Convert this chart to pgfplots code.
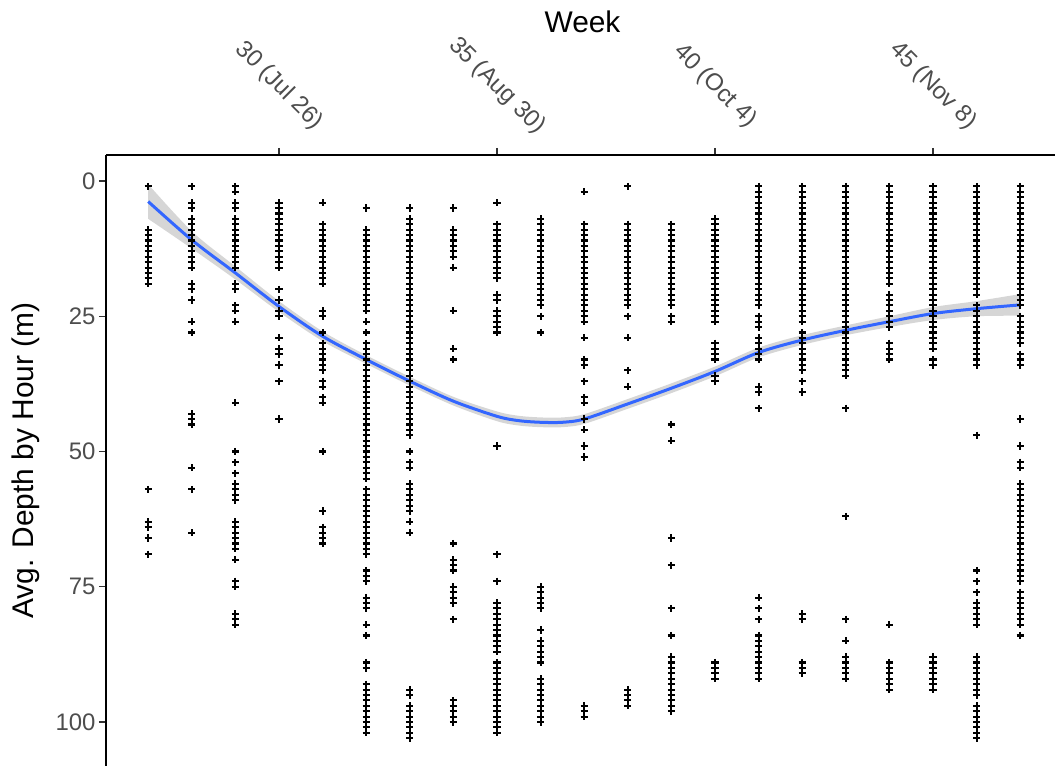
\documentclass[border=0pt]{standalone}
\usepackage{fontspec}
\setmainfont{Liberation Sans}
\usepackage{pgfplots}
\usepackage{pgfplotstable}
\pgfplotsset{compat=1.18}
\usepgfplotslibrary{fillbetween}

\definecolor{fitblue}{HTML}{3366FF}
\definecolor{ticktext}{HTML}{4D4D4D}
\definecolor{bandgrey}{HTML}{999999}

\pgfplotsset{pts/.style={only marks, mark=+, mark size=3.6bp,
  mark options={line width=2.1bp, black}}}

% smoothed depth by week with its confidence band (depth in m)
\pgfplotstableread{
week fit lo hi
27   3.8  0.6  7.0
28  10.9  9.3 12.5
29  17.0 15.8 18.2
30  23.2 22.2 24.2
31  28.7 27.8 29.6
32  33.0 32.2 33.8
33  37.0 36.2 37.8
34  40.7 39.9 41.5
35  43.5 42.6 44.4
35.5 44.3 43.4 45.2
36  44.6 43.7 45.5
36.5 44.6 43.7 45.5
37  44.0 43.1 44.9
38  41.2 40.3 42.1
39  38.3 37.4 39.2
40  35.2 34.3 36.1
41  31.7 30.8 32.6
42  29.4 28.5 30.3
43  27.6 26.7 28.5
44  26.0 25.0 27.0
45  24.5 23.3 25.7
46  23.6 22.2 25.0
47  22.9 20.9 24.9
}\fittab

\begin{document}
\begin{tikzpicture}
\begin{axis}[
  scale only axis, width=949bp, height=611bp,
  xmin=26.032, xmax=47.798, ymin=-108.13, ymax=4.806,
  axis x line*=top, axis y line*=left,
  axis line style={-, line width=1.5bp, black},
  tick align=outside, major tick length=7bp,
  tick style={line width=1.4bp, color=black!80},
  xtick={30,35,40,45},
  xticklabels={30 (Jul 26), 35 (Aug 30), 40 (Oct 4), 45 (Nov 8)},
  ytick={0,-25,-50,-75,-100}, yticklabels={0,25,50,75,100},
  /pgf/number format/assume math mode=true,
  tick label style={font=\fontsize{24}{29}\selectfont, text=ticktext},
  xticklabel style={yshift=62bp, rotate=-45, anchor=center},
  xlabel={Week}, ylabel={Avg. Depth by Hour (m)},
  every axis x label/.style={at={(axis description cs:0.5,1)}, anchor=center,
    xshift=2bp, yshift=133bp, font=\fontsize{30}{36}\selectfont},
  every axis y label/.style={at={(axis description cs:0,0.5)}, anchor=center,
    xshift=-80bp, rotate=90, font=\fontsize{30}{36}\selectfont},
]
% hourly average depths, one column of points per week
\addplot[pts] table[x expr=27, y expr=-\thisrow{d}, row sep=\\] {d\\1\\9\\10\\11\\12\\13\\14\\15\\16\\17\\18\\19\\57\\63\\64\\66\\69\\};
\addplot[pts] table[x expr=28, y expr=-\thisrow{d}, row sep=\\] {d\\1\\4\\5\\7\\8\\9\\10\\11\\12\\13\\14\\15\\16\\19\\20\\22\\26\\28\\43\\44\\45\\53\\57\\65\\};
\addplot[pts] table[x expr=29, y expr=-\thisrow{d}, row sep=\\] {d\\1\\2\\4\\5\\7\\8\\9\\10\\11\\12\\13\\14\\15\\16\\19\\20\\23\\24\\26\\41\\50\\52\\54\\56\\57\\58\\59\\63\\64\\65\\66\\67\\68\\70\\74\\75\\80\\81\\82\\};
\addplot[pts] table[x expr=30, y expr=-\thisrow{d}, row sep=\\] {d\\4\\5\\6\\7\\8\\9\\10\\11\\12\\13\\14\\15\\16\\20\\22\\24\\25\\29\\31\\32\\34\\37\\44\\};
\addplot[pts] table[x expr=31, y expr=-\thisrow{d}, row sep=\\] {d\\4\\8\\9\\10\\11\\12\\13\\14\\15\\16\\17\\18\\19\\24\\25\\28\\30\\31\\32\\33\\34\\35\\37\\38\\40\\41\\50\\61\\64\\65\\66\\67\\};
\addplot[pts] table[x expr=32, y expr=-\thisrow{d}, row sep=\\] {d\\5\\9\\10\\11\\12\\13\\14\\15\\16\\17\\18\\19\\20\\21\\22\\23\\24\\26\\28\\30\\31\\32\\33\\34\\35\\36\\37\\38\\39\\40\\41\\42\\43\\44\\45\\46\\47\\48\\49\\50\\51\\52\\53\\54\\55\\57\\58\\59\\60\\61\\62\\63\\64\\65\\66\\67\\68\\69\\72\\73\\74\\77\\78\\79\\82\\84\\89\\90\\93\\94\\95\\96\\97\\98\\99\\100\\101\\102\\};
\addplot[pts] table[x expr=33, y expr=-\thisrow{d}, row sep=\\] {d\\5\\7\\8\\9\\10\\11\\12\\13\\14\\15\\16\\17\\18\\19\\20\\21\\22\\23\\24\\25\\26\\27\\28\\29\\30\\31\\32\\33\\34\\35\\36\\37\\38\\39\\40\\41\\42\\43\\44\\45\\46\\47\\50\\52\\53\\56\\57\\58\\59\\60\\61\\63\\65\\94\\95\\97\\98\\99\\100\\101\\102\\103\\};
\addplot[pts] table[x expr=34, y expr=-\thisrow{d}, row sep=\\] {d\\5\\9\\10\\11\\12\\13\\14\\16\\24\\31\\33\\67\\70\\71\\72\\75\\76\\77\\78\\81\\96\\97\\98\\99\\100\\};
\addplot[pts] table[x expr=35, y expr=-\thisrow{d}, row sep=\\] {d\\4\\8\\9\\10\\11\\12\\13\\14\\15\\16\\17\\18\\21\\22\\24\\25\\26\\27\\28\\49\\69\\74\\78\\79\\80\\81\\82\\83\\84\\85\\86\\87\\89\\90\\91\\92\\93\\94\\95\\96\\97\\98\\99\\100\\101\\102\\};
\addplot[pts] table[x expr=36, y expr=-\thisrow{d}, row sep=\\] {d\\7\\8\\9\\10\\11\\12\\13\\14\\15\\16\\17\\18\\19\\20\\21\\22\\23\\25\\28\\75\\76\\77\\78\\79\\83\\85\\86\\87\\88\\89\\92\\93\\94\\95\\96\\97\\98\\99\\100\\};
\addplot[pts] table[x expr=37, y expr=-\thisrow{d}, row sep=\\] {d\\2\\8\\9\\10\\11\\12\\13\\14\\15\\16\\17\\18\\19\\20\\21\\22\\23\\24\\25\\26\\29\\33\\34\\37\\40\\41\\44\\46\\49\\51\\97\\98\\99\\};
\addplot[pts] table[x expr=38, y expr=-\thisrow{d}, row sep=\\] {d\\1\\8\\9\\10\\11\\12\\13\\14\\15\\16\\17\\18\\19\\20\\21\\22\\23\\25\\29\\35\\38\\94\\95\\96\\97\\};
\addplot[pts] table[x expr=39, y expr=-\thisrow{d}, row sep=\\] {d\\8\\9\\10\\11\\12\\13\\14\\15\\16\\17\\18\\19\\20\\21\\22\\23\\25\\26\\45\\48\\66\\71\\79\\84\\88\\89\\90\\91\\92\\93\\94\\95\\96\\97\\98\\};
\addplot[pts] table[x expr=40, y expr=-\thisrow{d}, row sep=\\] {d\\7\\8\\9\\10\\11\\12\\13\\14\\15\\16\\17\\18\\19\\20\\21\\22\\23\\24\\25\\26\\30\\31\\32\\33\\36\\37\\89\\90\\91\\92\\};
\addplot[pts] table[x expr=41, y expr=-\thisrow{d}, row sep=\\] {d\\1\\2\\3\\4\\5\\6\\7\\8\\9\\10\\11\\12\\13\\14\\15\\16\\17\\18\\19\\20\\21\\22\\23\\25\\26\\27\\29\\30\\31\\32\\33\\38\\39\\42\\77\\79\\81\\84\\85\\86\\87\\88\\89\\90\\91\\92\\};
\addplot[pts] table[x expr=42, y expr=-\thisrow{d}, row sep=\\] {d\\1\\2\\3\\4\\5\\6\\7\\8\\9\\10\\11\\12\\13\\14\\15\\16\\17\\18\\19\\20\\21\\22\\23\\24\\25\\26\\28\\29\\30\\31\\32\\33\\34\\35\\37\\39\\80\\81\\89\\90\\91\\};
\addplot[pts] table[x expr=43, y expr=-\thisrow{d}, row sep=\\] {d\\1\\2\\3\\4\\5\\6\\7\\8\\9\\10\\11\\12\\13\\14\\15\\16\\17\\18\\19\\20\\21\\22\\23\\24\\25\\26\\27\\28\\29\\30\\31\\32\\33\\34\\35\\36\\42\\62\\81\\85\\88\\89\\90\\91\\92\\};
\addplot[pts] table[x expr=44, y expr=-\thisrow{d}, row sep=\\] {d\\1\\2\\3\\4\\5\\6\\7\\8\\9\\10\\11\\12\\13\\14\\15\\16\\17\\18\\19\\21\\22\\23\\24\\25\\26\\27\\30\\31\\32\\33\\82\\89\\90\\91\\92\\93\\94\\};
\addplot[pts] table[x expr=45, y expr=-\thisrow{d}, row sep=\\] {d\\1\\2\\3\\4\\5\\6\\7\\8\\9\\10\\11\\12\\13\\14\\15\\16\\17\\18\\19\\20\\21\\22\\23\\24\\25\\26\\27\\28\\29\\30\\31\\33\\34\\88\\89\\90\\91\\92\\93\\94\\};
\addplot[pts] table[x expr=46, y expr=-\thisrow{d}, row sep=\\] {d\\1\\2\\3\\4\\5\\6\\7\\8\\9\\10\\11\\12\\13\\14\\15\\16\\17\\18\\19\\20\\21\\23\\24\\25\\26\\27\\28\\29\\30\\31\\32\\33\\34\\47\\72\\74\\76\\78\\79\\80\\81\\82\\88\\89\\90\\91\\92\\93\\94\\95\\97\\98\\99\\100\\101\\102\\103\\};
\addplot[pts] table[x expr=47, y expr=-\thisrow{d}, row sep=\\] {d\\1\\2\\3\\4\\5\\6\\7\\8\\9\\10\\11\\12\\13\\14\\15\\16\\17\\18\\19\\20\\21\\22\\23\\25\\26\\27\\28\\29\\30\\32\\33\\34\\44\\49\\52\\53\\56\\57\\58\\59\\60\\61\\62\\63\\64\\65\\66\\67\\68\\69\\70\\71\\72\\73\\74\\76\\77\\78\\79\\80\\81\\82\\84\\};

% confidence band and smoothed trend
\addplot[name path=upper, draw=none, smooth, forget plot] table[x=week, y expr=-\thisrow{lo}] {\fittab};
\addplot[name path=lower, draw=none, smooth, forget plot] table[x=week, y expr=-\thisrow{hi}] {\fittab};
\addplot[fill=bandgrey, fill opacity=0.4, draw=none] fill between[of=upper and lower];
\addplot[fitblue, line width=3bp, smooth, no marks] table[x=week, y expr=-\thisrow{fit}] {\fittab};
\end{axis}
\pgfresetboundingbox
\path (-106bp,0) rectangle (949bp,766bp);
\end{tikzpicture}
\end{document}
